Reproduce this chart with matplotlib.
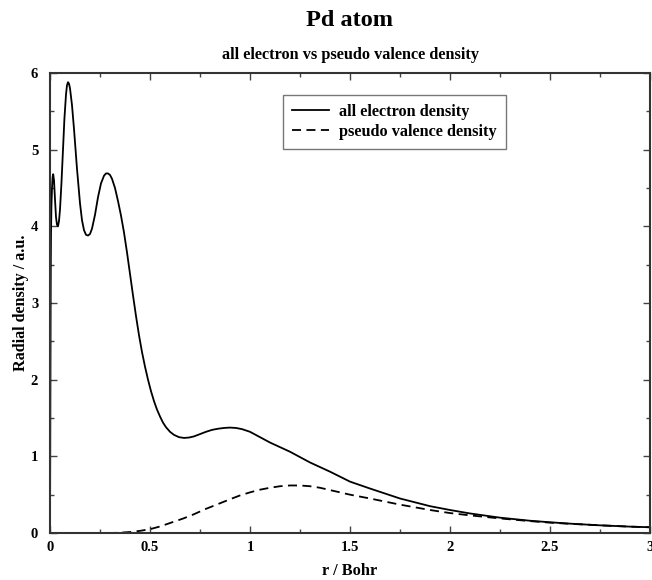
import matplotlib
matplotlib.use("Agg")
import matplotlib.pyplot as plt
from matplotlib.ticker import MultipleLocator

plt.rcParams['font.family'] = ['Liberation Serif', 'DejaVu Serif']
plt.rcParams['font.weight'] = 'bold'

# all electron density
r_ae = [0.0, 0.001, 0.002, 0.003, 0.004, 0.005, 0.007, 0.01, 0.013, 0.016, 0.02, 0.025,
        0.03, 0.035, 0.04, 0.045, 0.05, 0.057, 0.065, 0.072, 0.08, 0.085, 0.09, 0.095,
        0.1, 0.11, 0.12, 0.135, 0.15, 0.16, 0.17, 0.18, 0.19, 0.2, 0.21, 0.225, 0.24,
        0.255, 0.27, 0.28, 0.29, 0.3, 0.31, 0.325, 0.34, 0.355, 0.37, 0.385, 0.4,
        0.415, 0.43, 0.445, 0.46, 0.475, 0.49, 0.505, 0.52, 0.535, 0.55, 0.565, 0.58,
        0.6, 0.62, 0.645, 0.67, 0.695, 0.72, 0.75, 0.78, 0.81, 0.84, 0.87, 0.9, 0.93,
        0.96, 1.0, 1.05, 1.1, 1.15, 1.2, 1.25, 1.3, 1.35, 1.4, 1.5, 1.6, 1.75, 1.9,
        2.0, 2.1, 2.25, 2.4, 2.5, 2.6, 2.75, 2.9, 3.0]
v_ae = [0.0, 0.9, 1.9, 2.8, 3.5, 3.9, 4.25, 4.5, 4.64, 4.68, 4.6, 4.35,
        4.12, 4.02, 4.0, 4.07, 4.22, 4.55, 5.0, 5.4, 5.72, 5.84, 5.88, 5.86,
        5.8, 5.58, 5.27, 4.75, 4.3, 4.08, 3.95, 3.89, 3.88, 3.9, 3.97, 4.15, 4.38,
        4.56, 4.66, 4.69, 4.69, 4.67, 4.62, 4.5, 4.33, 4.14, 3.92, 3.66, 3.38,
        3.1, 2.83, 2.58, 2.36, 2.17, 2.0, 1.85, 1.72, 1.61, 1.52, 1.44, 1.38,
        1.32, 1.28, 1.25, 1.24, 1.245, 1.26, 1.29, 1.32, 1.345, 1.36, 1.37, 1.375, 1.37,
        1.355, 1.32, 1.25, 1.18, 1.12, 1.06, 0.99, 0.92, 0.86, 0.80, 0.67, 0.58, 0.45, 0.35,
        0.30, 0.255, 0.20, 0.16, 0.14, 0.122, 0.10, 0.083, 0.075]

# pseudo valence density
r_ps = [0.0, 0.1, 0.2, 0.3, 0.35, 0.4, 0.45, 0.5, 0.55, 0.6, 0.667, 0.72, 0.775, 0.833,
        0.9, 0.95, 1.0, 1.05, 1.1, 1.15, 1.2, 1.25, 1.3, 1.35, 1.4, 1.5, 1.6, 1.75,
        1.9, 2.0, 2.1, 2.25, 2.4, 2.5, 2.6, 2.75, 2.9, 3.0]
v_ps = [0.0, 0.0, 0.0, 0.0, 0.004, 0.013, 0.028, 0.05, 0.085, 0.13, 0.19, 0.245, 0.31, 0.37,
        0.44, 0.49, 0.53, 0.565, 0.59, 0.61, 0.62, 0.62, 0.61, 0.59, 0.56, 0.50, 0.45, 0.37,
        0.30, 0.26, 0.23, 0.19, 0.155, 0.135, 0.12, 0.10, 0.083, 0.075]

x_ticks = [0, 0.5, 1, 1.5, 2, 2.5, 3]
x_tick_labels = ['0', '0.5', '1', '1.5', '2', '2.5', '3']
y_ticks = [0, 1, 2, 3, 4, 5, 6]

fig = plt.figure(figsize=(6.52, 5.8), dpi=100)
ax = fig.add_axes([50/652, 47/580, 600/652, 460/580])

ax.plot(r_ae, v_ae, color='black', lw=1.3, label='all electron density')
ax.plot(r_ps, v_ps, color='black', lw=1.3, ls=(0, (5, 3)), label='pseudo valence density')

ax.set_xlim(0, 3)
ax.set_ylim(0, 6)
ax.set_xticks(x_ticks)
ax.set_xticklabels(x_tick_labels)
ax.set_yticks(y_ticks)
ax.xaxis.set_minor_locator(MultipleLocator(0.25))
ax.yaxis.set_minor_locator(MultipleLocator(0.5))
ax.tick_params(which='both', direction='in', top=True, right=True, color='#444444', width=1)
ax.tick_params(which='major', length=5, labelsize=10.5)
ax.tick_params(axis='x', which='major', pad=6)
ax.tick_params(axis='y', which='major', pad=8.5)
ax.tick_params(which='minor', length=3)
for lab in ax.get_xticklabels() + ax.get_yticklabels():
    lab.set_fontweight('bold')
for s in ax.spines.values():
    s.set_linewidth(1.5)
    s.set_color('#333333')

ax.set_xlabel('r / Bohr', fontsize=11.8, fontweight='bold', labelpad=6)
ax.set_ylabel('Radial density / a.u.', fontsize=11.6, fontweight='bold', labelpad=1)

fig.text(350/652, 1 - 20/580, 'Pd atom', ha='center', va='center', fontsize=17.5, fontweight='bold')
fig.text(350/652, 1 - 55/580, 'all electron vs pseudo valence density', ha='center', va='center',
         fontsize=11.7, fontweight='bold')

leg = ax.legend(loc='upper left', bbox_to_anchor=(283/652, 1 - 95/580),
                bbox_transform=fig.transFigure, fontsize=11.7, frameon=True, fancybox=False,
                handlelength=2.3, handletextpad=0.6, borderpad=0.55, labelspacing=0.25,
                borderaxespad=0)
leg.get_frame().set_edgecolor('#555555')
leg.get_frame().set_linewidth(1.0)
for t in leg.get_texts():
    t.set_fontweight('bold')

fig.savefig('out.png', dpi=100)
